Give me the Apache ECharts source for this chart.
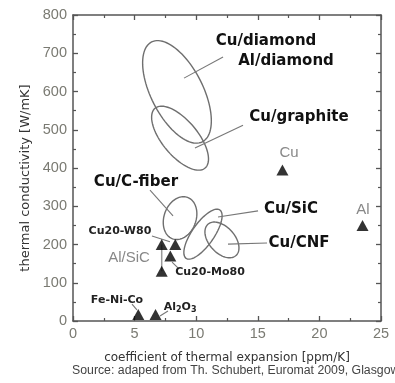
<!DOCTYPE html>
<html>
<head>
<meta charset="utf-8">
<script src="https://cdn.jsdelivr.net/npm/echarts@6/dist/echarts.min.js"></script>
<style>
html,body{margin:0;padding:0;background:#fff;overflow:hidden;}
#chart{width:395px;height:383px;}
</style>
</head>
<body>
<div id="chart"></div>
<script>
// ---- axis ranges ----
const xMin = 0, xMax = 25, xStep = 5;
const yMin = 0, yMax = 800, yStep = 100;

// ---- material points (CTE [ppm/K], thermal conductivity [W/mK]) ----
const pointNames = ['Cu', 'Al', 'Cu20-W80', 'Cu20-Mo80', 'Al/SiC low', 'Al/SiC high', 'Fe-Ni-Co', 'Al2O3'];
const pointCTE   = [17.0, 23.5, 8.3, 7.9, 7.2, 7.2, 5.3, 6.7];
const pointK     = [395, 250, 200, 170, 130, 200, 17, 17];

// Al/SiC range bar
const alSiCCTE = [7.2, 7.2];
const alSiCK   = [130, 200];

// ---- composite regions (ellipses): centre + major/minor half-axis vectors, data units ----
const ellipseNames = ['Cu/diamond, Al/diamond', 'Cu/graphite', 'Cu/C-fiber', 'Cu/SiC', 'Cu/CNF'];
const ellipseCx = [8.44, 8.69, 8.69, 10.55, 12.09];
const ellipseCy = [599, 478, 269, 227, 212];
const ellipseUx = [2.06, 2.03, 0.61, 1.37, 1.14];
const ellipseUy = [-130.5, -78.2, 54.1, 63.2, -40.8];
const ellipseVx = [1.88, 1.10, 1.22, 0.73, 0.78];
const ellipseVy = [30.8, 29.8, -14.4, -16.5, 22.7];

// ---- annotations: text, label anchor (data), leader line from/to (data) ----
const boldLabels = ['Cu/diamond', 'Al/diamond', 'Cu/graphite', 'Cu/C-fiber', 'Cu/SiC', 'Cu/CNF'];
const boldLabelX = [15.67, 17.29, 18.34, 5.11, 17.69, 18.34];
const boldLabelY = [732, 680, 533, 363, 293, 204];

const grayLabels = ['Cu', 'Al', 'Al/SiC'];
const grayLabelX = [17.53, 23.54, 4.55];
const grayLabelY = [439, 290, 165];

const smallLabels = ['Cu20-W80', 'Cu20-Mo80', 'Fe-Ni-Co', '{n|Al}{s|2}{n|O}{s|3}'];
const smallLabelX = [3.81, 11.12, 3.57, 8.69];
const smallLabelY = [235, 128, 55, 37];

const leaderX1 = [12.18, 13.80, 6.25, 15.02, 15.75, 6.41, 8.04, 4.79, 7.71];
const leaderY1 = [690, 512, 342, 288, 204, 222, 154, 44, 26];
const leaderX2 = [9.01, 9.90, 8.12, 11.77, 12.58, 7.87, 8.52, 5.19, 7.06];
const leaderY2 = [635, 452, 275, 272, 201, 207, 139, 29, 13];

// ---- build data for the library ----
const pointData = pointCTE.map((x, i) => [x, pointK[i]]);
const ellipseData = ellipseCx.map((cx, i) => [cx, ellipseCy[i], ellipseUx[i], ellipseUy[i], ellipseVx[i], ellipseVy[i]]);
const leaderData = leaderX1.map((x, i) => [x, leaderY1[i], leaderX2[i], leaderY2[i]]);
const mkLabelData = (xs, ys, texts) => xs.map((x, i) => ({ value: [x, ys[i]], name: texts[i] }));

const axisColor = '#555';
const tickLabelColor = '#7a7a72';

function makeX(pos, showLabel) {
  return {
    type: 'value', position: pos, min: xMin, max: xMax, interval: xStep,
    axisLine: { show: true, onZero: false, lineStyle: { color: axisColor, width: 1.5 } },
    axisTick: { show: true, inside: true, length: 5, lineStyle: { color: axisColor, width: 1.3 } },
    minorTick: { show: true, splitNumber: 2, length: 3, lineStyle: { color: axisColor, width: 1.2 } },
    splitLine: { show: false },
    axisLabel: { show: showLabel, color: tickLabelColor, fontFamily: 'Liberation Sans', fontSize: 14.5, margin: 5 },
    name: showLabel ? 'coefficient of thermal expansion [ppm/K]' : '',
    nameLocation: 'middle', nameGap: 31,
    nameTextStyle: { color: '#333', fontFamily: 'DejaVu Sans', fontSize: 12 }
  };
}
function makeY(pos, showLabel) {
  return {
    type: 'value', position: pos, min: yMin, max: yMax, interval: yStep,
    axisLine: { show: true, onZero: false, lineStyle: { color: axisColor, width: 1.5 } },
    axisTick: { show: true, inside: true, length: 5, lineStyle: { color: axisColor, width: 1.3 } },
    minorTick: { show: true, splitNumber: 2, length: 3, lineStyle: { color: axisColor, width: 1.2 } },
    splitLine: { show: false },
    axisLabel: { show: showLabel, color: tickLabelColor, fontFamily: 'Liberation Sans', fontSize: 14.5, margin: 6 },
    name: showLabel ? 'thermal conductivity [W/mK]' : '',
    nameLocation: 'middle', nameGap: 40,
    nameTextStyle: { color: '#333', fontFamily: 'DejaVu Sans', fontSize: 13, padding: [0, 0, 0, -20] }
  };
}

function textSeries(data, font, color, rich) {
  return {
    type: 'custom', coordinateSystem: 'cartesian2d', xAxisIndex: 0, yAxisIndex: 0,
    encode: { x: 0, y: 1 }, silent: true, z: 5,
    data: data,
    renderItem: function (params, api) {
      const p = api.coord([api.value(0), api.value(1)]);
      const item = data[params.dataIndex];
      const style = { text: item.name, x: p[0], y: p[1], align: 'center', verticalAlign: 'middle', font: font, fill: color };
      if (rich) style.rich = rich;
      return { type: 'text', style: style };
    }
  };
}

const chart = echarts.init(document.getElementById('chart'), null, { renderer: 'canvas' });
chart.setOption({
  animation: false,
  backgroundColor: '#fff',
  grid: { left: 73, right: 14, top: 15, bottom: 62, containLabel: false },
  xAxis: [makeX('bottom', true), makeX('top', false)],
  yAxis: [makeY('left', true), makeY('right', false)],
  graphic: [{
    type: 'text', left: 72, top: 365,
    style: { text: 'Source: adaped from Th. Schubert, Euromat 2009, Glasgow', font: '12.3px "Liberation Sans"', fill: '#444' }
  }],
  series: [
    {
      name: 'regions', type: 'custom', coordinateSystem: 'cartesian2d', xAxisIndex: 0, yAxisIndex: 0,
      encode: { x: 0, y: 1 }, silent: true, z: 2,
      data: ellipseData,
      renderItem: function (params, api) {
        const cx = api.value(0), cy = api.value(1), ux = api.value(2), uy = api.value(3), vx = api.value(4), vy = api.value(5);
        const pts = [];
        for (let k = 0; k < 96; k++) {
          const t = (k / 96) * Math.PI * 2;
          pts.push(api.coord([cx + ux * Math.cos(t) + vx * Math.sin(t), cy + uy * Math.cos(t) + vy * Math.sin(t)]));
        }
        return { type: 'polygon', shape: { points: pts }, style: { fill: 'none', stroke: '#6f6f6f', lineWidth: 1.4 } };
      }
    },
    {
      name: 'leaders', type: 'custom', coordinateSystem: 'cartesian2d', xAxisIndex: 0, yAxisIndex: 0,
      encode: { x: [0, 2], y: [1, 3] }, silent: true, z: 3,
      data: leaderData,
      renderItem: function (params, api) {
        const a = api.coord([api.value(0), api.value(1)]);
        const b = api.coord([api.value(2), api.value(3)]);
        return { type: 'line', shape: { x1: a[0], y1: a[1], x2: b[0], y2: b[1] }, style: { stroke: '#777', lineWidth: 1.1 } };
      }
    },
    {
      name: 'Al/SiC range', type: 'line', xAxisIndex: 0, yAxisIndex: 0,
      data: alSiCCTE.map((x, i) => [x, alSiCK[i]]),
      symbol: 'none', lineStyle: { color: '#999', width: 1.5 }, silent: true, z: 3
    },
    {
      name: 'materials', type: 'scatter', xAxisIndex: 0, yAxisIndex: 0,
      data: pointData, symbol: 'triangle', symbolSize: [12, 11],
      itemStyle: { color: '#000' }, silent: true, z: 4
    },
    textSeries(mkLabelData(boldLabelX, boldLabelY, boldLabels), 'bold 15px "DejaVu Sans"', '#111'),
    textSeries(mkLabelData(grayLabelX, grayLabelY, grayLabels), '15px "Liberation Sans"', '#888'),
    textSeries(mkLabelData(smallLabelX, smallLabelY, smallLabels), 'bold 11px "DejaVu Sans"', '#222', {
      n: { font: 'bold 11px "DejaVu Sans"', fill: '#222' },
      s: { font: 'bold 8px "DejaVu Sans"', fill: '#222', padding: [7, 0, 0, 0] }
    })
  ]
});
</script>
</body>
</html>
